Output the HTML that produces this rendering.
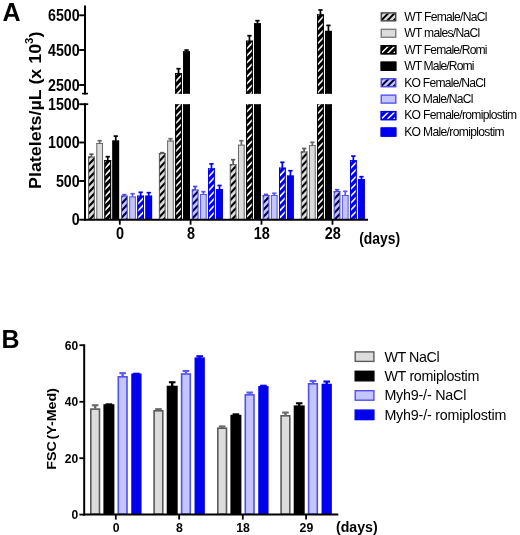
<!DOCTYPE html>
<html><head><meta charset="utf-8"><title>Figure</title>
<style>html,body{margin:0;padding:0;background:#fff;}svg{display:block;filter:blur(0.35px);}</style>
</head><body>
<svg width="520" height="535" viewBox="0 0 520 535">
<rect width="520" height="535" fill="#fff"/>
<rect x="88.10" y="156.60" width="6.7" height="63.10" fill="#dcdcdc"/><clipPath id="c1"><rect x="88.60" y="156.60" width="5.70" height="63.10"/></clipPath><g clip-path="url(#c1)" stroke="#000000" stroke-width="2.1"><line x1="86.60" y1="145.71" x2="96.30" y2="135.49"/><line x1="86.60" y1="152.71" x2="96.30" y2="142.49"/><line x1="86.60" y1="159.71" x2="96.30" y2="149.49"/><line x1="86.60" y1="166.71" x2="96.30" y2="156.49"/><line x1="86.60" y1="173.71" x2="96.30" y2="163.49"/><line x1="86.60" y1="180.71" x2="96.30" y2="170.49"/><line x1="86.60" y1="187.71" x2="96.30" y2="177.49"/><line x1="86.60" y1="194.71" x2="96.30" y2="184.49"/><line x1="86.60" y1="201.71" x2="96.30" y2="191.49"/><line x1="86.60" y1="208.71" x2="96.30" y2="198.49"/><line x1="86.60" y1="215.71" x2="96.30" y2="205.49"/><line x1="86.60" y1="222.71" x2="96.30" y2="212.49"/><line x1="86.60" y1="229.71" x2="96.30" y2="219.49"/><line x1="86.60" y1="236.71" x2="96.30" y2="226.49"/></g><line x1="88.60" y1="156.60" x2="88.60" y2="219.70" stroke="#5a5a5a" stroke-width="1.0"/><line x1="94.30" y1="156.60" x2="94.30" y2="219.70" stroke="#5a5a5a" stroke-width="1.0"/><line x1="88.10" y1="157.10" x2="94.80" y2="157.10" stroke="#5a5a5a" stroke-width="1.0"/>
<line x1="91.45" y1="157.10" x2="91.45" y2="154.20" stroke="#5a5a5a" stroke-width="1.7"/><line x1="89.30" y1="154.20" x2="93.60" y2="154.20" stroke="#5a5a5a" stroke-width="1.7"/>
<rect x="96.30" y="143.00" width="6.7" height="76.70" fill="#dcdcdc"/><line x1="96.80" y1="143.00" x2="96.80" y2="219.70" stroke="#6a6a6a" stroke-width="1.0"/><line x1="102.50" y1="143.00" x2="102.50" y2="219.70" stroke="#6a6a6a" stroke-width="1.0"/><line x1="96.30" y1="143.50" x2="103.00" y2="143.50" stroke="#6a6a6a" stroke-width="1.0"/>
<line x1="99.65" y1="143.50" x2="99.65" y2="140.70" stroke="#6a6a6a" stroke-width="1.7"/><line x1="97.50" y1="140.70" x2="101.80" y2="140.70" stroke="#6a6a6a" stroke-width="1.7"/>
<rect x="104.40" y="160.10" width="6.7" height="59.60" fill="#000000"/><clipPath id="c2"><rect x="104.90" y="160.10" width="5.70" height="59.60"/></clipPath><g clip-path="url(#c2)" stroke="#ffffff" stroke-width="1.6"><line x1="102.90" y1="149.51" x2="112.60" y2="139.29"/><line x1="102.90" y1="156.51" x2="112.60" y2="146.29"/><line x1="102.90" y1="163.51" x2="112.60" y2="153.29"/><line x1="102.90" y1="170.51" x2="112.60" y2="160.29"/><line x1="102.90" y1="177.51" x2="112.60" y2="167.29"/><line x1="102.90" y1="184.51" x2="112.60" y2="174.29"/><line x1="102.90" y1="191.51" x2="112.60" y2="181.29"/><line x1="102.90" y1="198.51" x2="112.60" y2="188.29"/><line x1="102.90" y1="205.51" x2="112.60" y2="195.29"/><line x1="102.90" y1="212.51" x2="112.60" y2="202.29"/><line x1="102.90" y1="219.51" x2="112.60" y2="209.29"/><line x1="102.90" y1="226.51" x2="112.60" y2="216.29"/><line x1="102.90" y1="233.51" x2="112.60" y2="223.29"/><line x1="102.90" y1="240.51" x2="112.60" y2="230.29"/></g><line x1="104.90" y1="160.10" x2="104.90" y2="219.70" stroke="#000000" stroke-width="1.0"/><line x1="110.60" y1="160.10" x2="110.60" y2="219.70" stroke="#000000" stroke-width="1.0"/><line x1="104.40" y1="160.60" x2="111.10" y2="160.60" stroke="#000000" stroke-width="1.0"/>
<line x1="107.75" y1="160.60" x2="107.75" y2="156.70" stroke="#000000" stroke-width="1.7"/><line x1="105.60" y1="156.70" x2="109.90" y2="156.70" stroke="#000000" stroke-width="1.7"/>
<rect x="112.40" y="140.60" width="6.7" height="79.10" fill="#000000"/><line x1="112.90" y1="140.60" x2="112.90" y2="219.70" stroke="#000000" stroke-width="1.0"/><line x1="118.60" y1="140.60" x2="118.60" y2="219.70" stroke="#000000" stroke-width="1.0"/><line x1="112.40" y1="141.10" x2="119.10" y2="141.10" stroke="#000000" stroke-width="1.0"/>
<line x1="115.75" y1="141.10" x2="115.75" y2="136.10" stroke="#000000" stroke-width="1.7"/><line x1="113.60" y1="136.10" x2="117.90" y2="136.10" stroke="#000000" stroke-width="1.7"/>
<rect x="121.00" y="195.70" width="6.7" height="24.00" fill="#c4c4ff"/><clipPath id="c3"><rect x="121.50" y="195.70" width="5.70" height="24.00"/></clipPath><g clip-path="url(#c3)" stroke="#00004a" stroke-width="2.1"><line x1="119.50" y1="184.81" x2="129.20" y2="174.59"/><line x1="119.50" y1="191.81" x2="129.20" y2="181.59"/><line x1="119.50" y1="198.81" x2="129.20" y2="188.59"/><line x1="119.50" y1="205.81" x2="129.20" y2="195.59"/><line x1="119.50" y1="212.81" x2="129.20" y2="202.59"/><line x1="119.50" y1="219.81" x2="129.20" y2="209.59"/><line x1="119.50" y1="226.81" x2="129.20" y2="216.59"/><line x1="119.50" y1="233.81" x2="129.20" y2="223.59"/><line x1="119.50" y1="240.81" x2="129.20" y2="230.59"/></g><line x1="121.50" y1="195.70" x2="121.50" y2="219.70" stroke="#4a4ae0" stroke-width="1.0"/><line x1="127.20" y1="195.70" x2="127.20" y2="219.70" stroke="#4a4ae0" stroke-width="1.0"/><line x1="121.00" y1="196.20" x2="127.70" y2="196.20" stroke="#4a4ae0" stroke-width="1.0"/>
<line x1="124.35" y1="196.20" x2="124.35" y2="194.70" stroke="#4a4ae0" stroke-width="1.7"/><line x1="122.20" y1="194.70" x2="126.50" y2="194.70" stroke="#4a4ae0" stroke-width="1.7"/>
<rect x="129.20" y="196.50" width="6.7" height="23.20" fill="#c4c4ff"/><line x1="129.70" y1="196.50" x2="129.70" y2="219.70" stroke="#5a5af0" stroke-width="1.0"/><line x1="135.40" y1="196.50" x2="135.40" y2="219.70" stroke="#5a5af0" stroke-width="1.0"/><line x1="129.20" y1="197.00" x2="135.90" y2="197.00" stroke="#5a5af0" stroke-width="1.0"/>
<line x1="132.55" y1="197.00" x2="132.55" y2="193.70" stroke="#5a5af0" stroke-width="1.7"/><line x1="130.40" y1="193.70" x2="134.70" y2="193.70" stroke="#5a5af0" stroke-width="1.7"/>
<rect x="137.30" y="195.70" width="6.7" height="24.00" fill="#0000ee"/><clipPath id="c4"><rect x="137.80" y="195.70" width="5.70" height="24.00"/></clipPath><g clip-path="url(#c4)" stroke="#ffffff" stroke-width="1.6"><line x1="135.80" y1="185.11" x2="145.50" y2="174.89"/><line x1="135.80" y1="192.11" x2="145.50" y2="181.89"/><line x1="135.80" y1="199.11" x2="145.50" y2="188.89"/><line x1="135.80" y1="206.11" x2="145.50" y2="195.89"/><line x1="135.80" y1="213.11" x2="145.50" y2="202.89"/><line x1="135.80" y1="220.11" x2="145.50" y2="209.89"/><line x1="135.80" y1="227.11" x2="145.50" y2="216.89"/><line x1="135.80" y1="234.11" x2="145.50" y2="223.89"/><line x1="135.80" y1="241.11" x2="145.50" y2="230.89"/></g><line x1="137.80" y1="195.70" x2="137.80" y2="219.70" stroke="#0000ee" stroke-width="1.0"/><line x1="143.50" y1="195.70" x2="143.50" y2="219.70" stroke="#0000ee" stroke-width="1.0"/><line x1="137.30" y1="196.20" x2="144.00" y2="196.20" stroke="#0000ee" stroke-width="1.0"/>
<line x1="140.65" y1="196.20" x2="140.65" y2="192.30" stroke="#0000ee" stroke-width="1.7"/><line x1="138.50" y1="192.30" x2="142.80" y2="192.30" stroke="#0000ee" stroke-width="1.7"/>
<rect x="145.40" y="195.70" width="6.7" height="24.00" fill="#0000ee"/><line x1="145.90" y1="195.70" x2="145.90" y2="219.70" stroke="#0000ee" stroke-width="1.0"/><line x1="151.60" y1="195.70" x2="151.60" y2="219.70" stroke="#0000ee" stroke-width="1.0"/><line x1="145.40" y1="196.20" x2="152.10" y2="196.20" stroke="#0000ee" stroke-width="1.0"/>
<line x1="148.75" y1="196.20" x2="148.75" y2="192.70" stroke="#0000ee" stroke-width="1.7"/><line x1="146.60" y1="192.70" x2="150.90" y2="192.70" stroke="#0000ee" stroke-width="1.7"/>
<rect x="158.90" y="153.00" width="6.7" height="66.70" fill="#dcdcdc"/><clipPath id="c5"><rect x="159.40" y="153.00" width="5.70" height="66.70"/></clipPath><g clip-path="url(#c5)" stroke="#000000" stroke-width="2.1"><line x1="157.40" y1="142.11" x2="167.10" y2="131.89"/><line x1="157.40" y1="149.11" x2="167.10" y2="138.89"/><line x1="157.40" y1="156.11" x2="167.10" y2="145.89"/><line x1="157.40" y1="163.11" x2="167.10" y2="152.89"/><line x1="157.40" y1="170.11" x2="167.10" y2="159.89"/><line x1="157.40" y1="177.11" x2="167.10" y2="166.89"/><line x1="157.40" y1="184.11" x2="167.10" y2="173.89"/><line x1="157.40" y1="191.11" x2="167.10" y2="180.89"/><line x1="157.40" y1="198.11" x2="167.10" y2="187.89"/><line x1="157.40" y1="205.11" x2="167.10" y2="194.89"/><line x1="157.40" y1="212.11" x2="167.10" y2="201.89"/><line x1="157.40" y1="219.11" x2="167.10" y2="208.89"/><line x1="157.40" y1="226.11" x2="167.10" y2="215.89"/><line x1="157.40" y1="233.11" x2="167.10" y2="222.89"/><line x1="157.40" y1="240.11" x2="167.10" y2="229.89"/></g><line x1="159.40" y1="153.00" x2="159.40" y2="219.70" stroke="#5a5a5a" stroke-width="1.0"/><line x1="165.10" y1="153.00" x2="165.10" y2="219.70" stroke="#5a5a5a" stroke-width="1.0"/><line x1="158.90" y1="153.50" x2="165.60" y2="153.50" stroke="#5a5a5a" stroke-width="1.0"/>
<line x1="162.25" y1="153.50" x2="162.25" y2="152.70" stroke="#5a5a5a" stroke-width="1.7"/><line x1="160.10" y1="152.70" x2="164.40" y2="152.70" stroke="#5a5a5a" stroke-width="1.7"/>
<rect x="167.10" y="140.60" width="6.7" height="79.10" fill="#dcdcdc"/><line x1="167.60" y1="140.60" x2="167.60" y2="219.70" stroke="#6a6a6a" stroke-width="1.0"/><line x1="173.30" y1="140.60" x2="173.30" y2="219.70" stroke="#6a6a6a" stroke-width="1.0"/><line x1="167.10" y1="141.10" x2="173.80" y2="141.10" stroke="#6a6a6a" stroke-width="1.0"/>
<line x1="170.45" y1="141.10" x2="170.45" y2="138.70" stroke="#6a6a6a" stroke-width="1.7"/><line x1="168.30" y1="138.70" x2="172.60" y2="138.70" stroke="#6a6a6a" stroke-width="1.7"/>
<rect x="175.20" y="104.20" width="6.7" height="115.50" fill="#000000"/><clipPath id="c6"><rect x="175.70" y="104.20" width="5.70" height="115.50"/></clipPath><g clip-path="url(#c6)" stroke="#ffffff" stroke-width="1.6"><line x1="173.70" y1="97.41" x2="183.40" y2="87.19"/><line x1="173.70" y1="104.41" x2="183.40" y2="94.19"/><line x1="173.70" y1="111.41" x2="183.40" y2="101.19"/><line x1="173.70" y1="118.41" x2="183.40" y2="108.19"/><line x1="173.70" y1="125.41" x2="183.40" y2="115.19"/><line x1="173.70" y1="132.41" x2="183.40" y2="122.19"/><line x1="173.70" y1="139.41" x2="183.40" y2="129.19"/><line x1="173.70" y1="146.41" x2="183.40" y2="136.19"/><line x1="173.70" y1="153.41" x2="183.40" y2="143.19"/><line x1="173.70" y1="160.41" x2="183.40" y2="150.19"/><line x1="173.70" y1="167.41" x2="183.40" y2="157.19"/><line x1="173.70" y1="174.41" x2="183.40" y2="164.19"/><line x1="173.70" y1="181.41" x2="183.40" y2="171.19"/><line x1="173.70" y1="188.41" x2="183.40" y2="178.19"/><line x1="173.70" y1="195.41" x2="183.40" y2="185.19"/><line x1="173.70" y1="202.41" x2="183.40" y2="192.19"/><line x1="173.70" y1="209.41" x2="183.40" y2="199.19"/><line x1="173.70" y1="216.41" x2="183.40" y2="206.19"/><line x1="173.70" y1="223.41" x2="183.40" y2="213.19"/><line x1="173.70" y1="230.41" x2="183.40" y2="220.19"/><line x1="173.70" y1="237.41" x2="183.40" y2="227.19"/></g><line x1="175.70" y1="104.20" x2="175.70" y2="219.70" stroke="#000000" stroke-width="1.0"/><line x1="181.40" y1="104.20" x2="181.40" y2="219.70" stroke="#000000" stroke-width="1.0"/>
<rect x="175.20" y="73.00" width="6.7" height="20.80" fill="#000000"/><clipPath id="c7"><rect x="175.70" y="73.00" width="5.70" height="20.80"/></clipPath><g clip-path="url(#c7)" stroke="#ffffff" stroke-width="1.6"><line x1="173.70" y1="62.41" x2="183.40" y2="52.19"/><line x1="173.70" y1="69.41" x2="183.40" y2="59.19"/><line x1="173.70" y1="76.41" x2="183.40" y2="66.19"/><line x1="173.70" y1="83.41" x2="183.40" y2="73.19"/><line x1="173.70" y1="90.41" x2="183.40" y2="80.19"/><line x1="173.70" y1="97.41" x2="183.40" y2="87.19"/><line x1="173.70" y1="104.41" x2="183.40" y2="94.19"/><line x1="173.70" y1="111.41" x2="183.40" y2="101.19"/></g><line x1="175.70" y1="73.00" x2="175.70" y2="93.80" stroke="#000000" stroke-width="1.0"/><line x1="181.40" y1="73.00" x2="181.40" y2="93.80" stroke="#000000" stroke-width="1.0"/><line x1="175.20" y1="73.50" x2="181.90" y2="73.50" stroke="#000000" stroke-width="1.0"/>
<line x1="178.55" y1="73.50" x2="178.55" y2="68.70" stroke="#000000" stroke-width="1.7"/><line x1="176.40" y1="68.70" x2="180.70" y2="68.70" stroke="#000000" stroke-width="1.7"/>
<rect x="183.20" y="104.20" width="6.7" height="115.50" fill="#000000"/><line x1="183.70" y1="104.20" x2="183.70" y2="219.70" stroke="#000000" stroke-width="1.0"/><line x1="189.40" y1="104.20" x2="189.40" y2="219.70" stroke="#000000" stroke-width="1.0"/>
<rect x="183.20" y="51.40" width="6.7" height="42.40" fill="#000000"/><line x1="183.70" y1="51.40" x2="183.70" y2="93.80" stroke="#000000" stroke-width="1.0"/><line x1="189.40" y1="51.40" x2="189.40" y2="93.80" stroke="#000000" stroke-width="1.0"/><line x1="183.20" y1="51.90" x2="189.90" y2="51.90" stroke="#000000" stroke-width="1.0"/>
<line x1="186.55" y1="51.90" x2="186.55" y2="50.10" stroke="#000000" stroke-width="1.7"/><line x1="184.40" y1="50.10" x2="188.70" y2="50.10" stroke="#000000" stroke-width="1.7"/>
<rect x="191.80" y="189.50" width="6.7" height="30.20" fill="#c4c4ff"/><clipPath id="c8"><rect x="192.30" y="189.50" width="5.70" height="30.20"/></clipPath><g clip-path="url(#c8)" stroke="#00004a" stroke-width="2.1"><line x1="190.30" y1="178.61" x2="200.00" y2="168.39"/><line x1="190.30" y1="185.61" x2="200.00" y2="175.39"/><line x1="190.30" y1="192.61" x2="200.00" y2="182.39"/><line x1="190.30" y1="199.61" x2="200.00" y2="189.39"/><line x1="190.30" y1="206.61" x2="200.00" y2="196.39"/><line x1="190.30" y1="213.61" x2="200.00" y2="203.39"/><line x1="190.30" y1="220.61" x2="200.00" y2="210.39"/><line x1="190.30" y1="227.61" x2="200.00" y2="217.39"/><line x1="190.30" y1="234.61" x2="200.00" y2="224.39"/><line x1="190.30" y1="241.61" x2="200.00" y2="231.39"/></g><line x1="192.30" y1="189.50" x2="192.30" y2="219.70" stroke="#4a4ae0" stroke-width="1.0"/><line x1="198.00" y1="189.50" x2="198.00" y2="219.70" stroke="#4a4ae0" stroke-width="1.0"/><line x1="191.80" y1="190.00" x2="198.50" y2="190.00" stroke="#4a4ae0" stroke-width="1.0"/>
<line x1="195.15" y1="190.00" x2="195.15" y2="186.50" stroke="#4a4ae0" stroke-width="1.7"/><line x1="193.00" y1="186.50" x2="197.30" y2="186.50" stroke="#4a4ae0" stroke-width="1.7"/>
<rect x="200.00" y="194.00" width="6.7" height="25.70" fill="#c4c4ff"/><line x1="200.50" y1="194.00" x2="200.50" y2="219.70" stroke="#5a5af0" stroke-width="1.0"/><line x1="206.20" y1="194.00" x2="206.20" y2="219.70" stroke="#5a5af0" stroke-width="1.0"/><line x1="200.00" y1="194.50" x2="206.70" y2="194.50" stroke="#5a5af0" stroke-width="1.0"/>
<line x1="203.35" y1="194.50" x2="203.35" y2="191.70" stroke="#5a5af0" stroke-width="1.7"/><line x1="201.20" y1="191.70" x2="205.50" y2="191.70" stroke="#5a5af0" stroke-width="1.7"/>
<rect x="208.10" y="168.40" width="6.7" height="51.30" fill="#0000ee"/><clipPath id="c9"><rect x="208.60" y="168.40" width="5.70" height="51.30"/></clipPath><g clip-path="url(#c9)" stroke="#ffffff" stroke-width="1.6"><line x1="206.60" y1="157.81" x2="216.30" y2="147.59"/><line x1="206.60" y1="164.81" x2="216.30" y2="154.59"/><line x1="206.60" y1="171.81" x2="216.30" y2="161.59"/><line x1="206.60" y1="178.81" x2="216.30" y2="168.59"/><line x1="206.60" y1="185.81" x2="216.30" y2="175.59"/><line x1="206.60" y1="192.81" x2="216.30" y2="182.59"/><line x1="206.60" y1="199.81" x2="216.30" y2="189.59"/><line x1="206.60" y1="206.81" x2="216.30" y2="196.59"/><line x1="206.60" y1="213.81" x2="216.30" y2="203.59"/><line x1="206.60" y1="220.81" x2="216.30" y2="210.59"/><line x1="206.60" y1="227.81" x2="216.30" y2="217.59"/><line x1="206.60" y1="234.81" x2="216.30" y2="224.59"/></g><line x1="208.60" y1="168.40" x2="208.60" y2="219.70" stroke="#0000ee" stroke-width="1.0"/><line x1="214.30" y1="168.40" x2="214.30" y2="219.70" stroke="#0000ee" stroke-width="1.0"/><line x1="208.10" y1="168.90" x2="214.80" y2="168.90" stroke="#0000ee" stroke-width="1.0"/>
<line x1="211.45" y1="168.90" x2="211.45" y2="163.90" stroke="#0000ee" stroke-width="1.7"/><line x1="209.30" y1="163.90" x2="213.60" y2="163.90" stroke="#0000ee" stroke-width="1.7"/>
<rect x="216.20" y="189.00" width="6.7" height="30.70" fill="#0000ee"/><line x1="216.70" y1="189.00" x2="216.70" y2="219.70" stroke="#0000ee" stroke-width="1.0"/><line x1="222.40" y1="189.00" x2="222.40" y2="219.70" stroke="#0000ee" stroke-width="1.0"/><line x1="216.20" y1="189.50" x2="222.90" y2="189.50" stroke="#0000ee" stroke-width="1.0"/>
<line x1="219.55" y1="189.50" x2="219.55" y2="185.50" stroke="#0000ee" stroke-width="1.7"/><line x1="217.40" y1="185.50" x2="221.70" y2="185.50" stroke="#0000ee" stroke-width="1.7"/>
<rect x="229.80" y="164.20" width="6.7" height="55.50" fill="#dcdcdc"/><clipPath id="c10"><rect x="230.30" y="164.20" width="5.70" height="55.50"/></clipPath><g clip-path="url(#c10)" stroke="#000000" stroke-width="2.1"><line x1="228.30" y1="153.31" x2="238.00" y2="143.09"/><line x1="228.30" y1="160.31" x2="238.00" y2="150.09"/><line x1="228.30" y1="167.31" x2="238.00" y2="157.09"/><line x1="228.30" y1="174.31" x2="238.00" y2="164.09"/><line x1="228.30" y1="181.31" x2="238.00" y2="171.09"/><line x1="228.30" y1="188.31" x2="238.00" y2="178.09"/><line x1="228.30" y1="195.31" x2="238.00" y2="185.09"/><line x1="228.30" y1="202.31" x2="238.00" y2="192.09"/><line x1="228.30" y1="209.31" x2="238.00" y2="199.09"/><line x1="228.30" y1="216.31" x2="238.00" y2="206.09"/><line x1="228.30" y1="223.31" x2="238.00" y2="213.09"/><line x1="228.30" y1="230.31" x2="238.00" y2="220.09"/><line x1="228.30" y1="237.31" x2="238.00" y2="227.09"/></g><line x1="230.30" y1="164.20" x2="230.30" y2="219.70" stroke="#5a5a5a" stroke-width="1.0"/><line x1="236.00" y1="164.20" x2="236.00" y2="219.70" stroke="#5a5a5a" stroke-width="1.0"/><line x1="229.80" y1="164.70" x2="236.50" y2="164.70" stroke="#5a5a5a" stroke-width="1.0"/>
<line x1="233.15" y1="164.70" x2="233.15" y2="159.70" stroke="#5a5a5a" stroke-width="1.7"/><line x1="231.00" y1="159.70" x2="235.30" y2="159.70" stroke="#5a5a5a" stroke-width="1.7"/>
<rect x="238.00" y="144.70" width="6.7" height="75.00" fill="#dcdcdc"/><line x1="238.50" y1="144.70" x2="238.50" y2="219.70" stroke="#6a6a6a" stroke-width="1.0"/><line x1="244.20" y1="144.70" x2="244.20" y2="219.70" stroke="#6a6a6a" stroke-width="1.0"/><line x1="238.00" y1="145.20" x2="244.70" y2="145.20" stroke="#6a6a6a" stroke-width="1.0"/>
<line x1="241.35" y1="145.20" x2="241.35" y2="140.70" stroke="#6a6a6a" stroke-width="1.7"/><line x1="239.20" y1="140.70" x2="243.50" y2="140.70" stroke="#6a6a6a" stroke-width="1.7"/>
<rect x="246.10" y="104.20" width="6.7" height="115.50" fill="#000000"/><clipPath id="c11"><rect x="246.60" y="104.20" width="5.70" height="115.50"/></clipPath><g clip-path="url(#c11)" stroke="#ffffff" stroke-width="1.6"><line x1="244.60" y1="93.11" x2="254.30" y2="82.89"/><line x1="244.60" y1="100.11" x2="254.30" y2="89.89"/><line x1="244.60" y1="107.11" x2="254.30" y2="96.89"/><line x1="244.60" y1="114.11" x2="254.30" y2="103.89"/><line x1="244.60" y1="121.11" x2="254.30" y2="110.89"/><line x1="244.60" y1="128.11" x2="254.30" y2="117.89"/><line x1="244.60" y1="135.11" x2="254.30" y2="124.89"/><line x1="244.60" y1="142.11" x2="254.30" y2="131.89"/><line x1="244.60" y1="149.11" x2="254.30" y2="138.89"/><line x1="244.60" y1="156.11" x2="254.30" y2="145.89"/><line x1="244.60" y1="163.11" x2="254.30" y2="152.89"/><line x1="244.60" y1="170.11" x2="254.30" y2="159.89"/><line x1="244.60" y1="177.11" x2="254.30" y2="166.89"/><line x1="244.60" y1="184.11" x2="254.30" y2="173.89"/><line x1="244.60" y1="191.11" x2="254.30" y2="180.89"/><line x1="244.60" y1="198.11" x2="254.30" y2="187.89"/><line x1="244.60" y1="205.11" x2="254.30" y2="194.89"/><line x1="244.60" y1="212.11" x2="254.30" y2="201.89"/><line x1="244.60" y1="219.11" x2="254.30" y2="208.89"/><line x1="244.60" y1="226.11" x2="254.30" y2="215.89"/><line x1="244.60" y1="233.11" x2="254.30" y2="222.89"/><line x1="244.60" y1="240.11" x2="254.30" y2="229.89"/></g><line x1="246.60" y1="104.20" x2="246.60" y2="219.70" stroke="#000000" stroke-width="1.0"/><line x1="252.30" y1="104.20" x2="252.30" y2="219.70" stroke="#000000" stroke-width="1.0"/>
<rect x="246.10" y="40.70" width="6.7" height="53.10" fill="#000000"/><clipPath id="c12"><rect x="246.60" y="40.70" width="5.70" height="53.10"/></clipPath><g clip-path="url(#c12)" stroke="#ffffff" stroke-width="1.6"><line x1="244.60" y1="30.11" x2="254.30" y2="19.89"/><line x1="244.60" y1="37.11" x2="254.30" y2="26.89"/><line x1="244.60" y1="44.11" x2="254.30" y2="33.89"/><line x1="244.60" y1="51.11" x2="254.30" y2="40.89"/><line x1="244.60" y1="58.11" x2="254.30" y2="47.89"/><line x1="244.60" y1="65.11" x2="254.30" y2="54.89"/><line x1="244.60" y1="72.11" x2="254.30" y2="61.89"/><line x1="244.60" y1="79.11" x2="254.30" y2="68.89"/><line x1="244.60" y1="86.11" x2="254.30" y2="75.89"/><line x1="244.60" y1="93.11" x2="254.30" y2="82.89"/><line x1="244.60" y1="100.11" x2="254.30" y2="89.89"/><line x1="244.60" y1="107.11" x2="254.30" y2="96.89"/><line x1="244.60" y1="114.11" x2="254.30" y2="103.89"/></g><line x1="246.60" y1="40.70" x2="246.60" y2="93.80" stroke="#000000" stroke-width="1.0"/><line x1="252.30" y1="40.70" x2="252.30" y2="93.80" stroke="#000000" stroke-width="1.0"/><line x1="246.10" y1="41.20" x2="252.80" y2="41.20" stroke="#000000" stroke-width="1.0"/>
<line x1="249.45" y1="41.20" x2="249.45" y2="35.70" stroke="#000000" stroke-width="1.7"/><line x1="247.30" y1="35.70" x2="251.60" y2="35.70" stroke="#000000" stroke-width="1.7"/>
<rect x="254.10" y="104.20" width="6.7" height="115.50" fill="#000000"/><line x1="254.60" y1="104.20" x2="254.60" y2="219.70" stroke="#000000" stroke-width="1.0"/><line x1="260.30" y1="104.20" x2="260.30" y2="219.70" stroke="#000000" stroke-width="1.0"/>
<rect x="254.10" y="23.30" width="6.7" height="70.50" fill="#000000"/><line x1="254.60" y1="23.30" x2="254.60" y2="93.80" stroke="#000000" stroke-width="1.0"/><line x1="260.30" y1="23.30" x2="260.30" y2="93.80" stroke="#000000" stroke-width="1.0"/><line x1="254.10" y1="23.80" x2="260.80" y2="23.80" stroke="#000000" stroke-width="1.0"/>
<line x1="257.45" y1="23.80" x2="257.45" y2="20.70" stroke="#000000" stroke-width="1.7"/><line x1="255.30" y1="20.70" x2="259.60" y2="20.70" stroke="#000000" stroke-width="1.7"/>
<rect x="262.70" y="195.00" width="6.7" height="24.70" fill="#c4c4ff"/><clipPath id="c13"><rect x="263.20" y="195.00" width="5.70" height="24.70"/></clipPath><g clip-path="url(#c13)" stroke="#00004a" stroke-width="2.1"><line x1="261.20" y1="184.11" x2="270.90" y2="173.89"/><line x1="261.20" y1="191.11" x2="270.90" y2="180.89"/><line x1="261.20" y1="198.11" x2="270.90" y2="187.89"/><line x1="261.20" y1="205.11" x2="270.90" y2="194.89"/><line x1="261.20" y1="212.11" x2="270.90" y2="201.89"/><line x1="261.20" y1="219.11" x2="270.90" y2="208.89"/><line x1="261.20" y1="226.11" x2="270.90" y2="215.89"/><line x1="261.20" y1="233.11" x2="270.90" y2="222.89"/><line x1="261.20" y1="240.11" x2="270.90" y2="229.89"/></g><line x1="263.20" y1="195.00" x2="263.20" y2="219.70" stroke="#4a4ae0" stroke-width="1.0"/><line x1="268.90" y1="195.00" x2="268.90" y2="219.70" stroke="#4a4ae0" stroke-width="1.0"/><line x1="262.70" y1="195.50" x2="269.40" y2="195.50" stroke="#4a4ae0" stroke-width="1.0"/>
<line x1="266.05" y1="195.50" x2="266.05" y2="194.40" stroke="#4a4ae0" stroke-width="1.7"/><line x1="263.90" y1="194.40" x2="268.20" y2="194.40" stroke="#4a4ae0" stroke-width="1.7"/>
<rect x="270.90" y="195.00" width="6.7" height="24.70" fill="#c4c4ff"/><line x1="271.40" y1="195.00" x2="271.40" y2="219.70" stroke="#5a5af0" stroke-width="1.0"/><line x1="277.10" y1="195.00" x2="277.10" y2="219.70" stroke="#5a5af0" stroke-width="1.0"/><line x1="270.90" y1="195.50" x2="277.60" y2="195.50" stroke="#5a5af0" stroke-width="1.0"/>
<line x1="274.25" y1="195.50" x2="274.25" y2="193.30" stroke="#5a5af0" stroke-width="1.7"/><line x1="272.10" y1="193.30" x2="276.40" y2="193.30" stroke="#5a5af0" stroke-width="1.7"/>
<rect x="279.00" y="167.70" width="6.7" height="52.00" fill="#0000ee"/><clipPath id="c14"><rect x="279.50" y="167.70" width="5.70" height="52.00"/></clipPath><g clip-path="url(#c14)" stroke="#ffffff" stroke-width="1.6"><line x1="277.50" y1="157.11" x2="287.20" y2="146.89"/><line x1="277.50" y1="164.11" x2="287.20" y2="153.89"/><line x1="277.50" y1="171.11" x2="287.20" y2="160.89"/><line x1="277.50" y1="178.11" x2="287.20" y2="167.89"/><line x1="277.50" y1="185.11" x2="287.20" y2="174.89"/><line x1="277.50" y1="192.11" x2="287.20" y2="181.89"/><line x1="277.50" y1="199.11" x2="287.20" y2="188.89"/><line x1="277.50" y1="206.11" x2="287.20" y2="195.89"/><line x1="277.50" y1="213.11" x2="287.20" y2="202.89"/><line x1="277.50" y1="220.11" x2="287.20" y2="209.89"/><line x1="277.50" y1="227.11" x2="287.20" y2="216.89"/><line x1="277.50" y1="234.11" x2="287.20" y2="223.89"/><line x1="277.50" y1="241.11" x2="287.20" y2="230.89"/></g><line x1="279.50" y1="167.70" x2="279.50" y2="219.70" stroke="#0000ee" stroke-width="1.0"/><line x1="285.20" y1="167.70" x2="285.20" y2="219.70" stroke="#0000ee" stroke-width="1.0"/><line x1="279.00" y1="168.20" x2="285.70" y2="168.20" stroke="#0000ee" stroke-width="1.0"/>
<line x1="282.35" y1="168.20" x2="282.35" y2="162.30" stroke="#0000ee" stroke-width="1.7"/><line x1="280.20" y1="162.30" x2="284.50" y2="162.30" stroke="#0000ee" stroke-width="1.7"/>
<rect x="287.10" y="175.60" width="6.7" height="44.10" fill="#0000ee"/><line x1="287.60" y1="175.60" x2="287.60" y2="219.70" stroke="#0000ee" stroke-width="1.0"/><line x1="293.30" y1="175.60" x2="293.30" y2="219.70" stroke="#0000ee" stroke-width="1.0"/><line x1="287.10" y1="176.10" x2="293.80" y2="176.10" stroke="#0000ee" stroke-width="1.0"/>
<line x1="290.45" y1="176.10" x2="290.45" y2="170.70" stroke="#0000ee" stroke-width="1.7"/><line x1="288.30" y1="170.70" x2="292.60" y2="170.70" stroke="#0000ee" stroke-width="1.7"/>
<rect x="300.80" y="151.50" width="6.7" height="68.20" fill="#dcdcdc"/><clipPath id="c15"><rect x="301.30" y="151.50" width="5.70" height="68.20"/></clipPath><g clip-path="url(#c15)" stroke="#000000" stroke-width="2.1"><line x1="299.30" y1="140.61" x2="309.00" y2="130.39"/><line x1="299.30" y1="147.61" x2="309.00" y2="137.39"/><line x1="299.30" y1="154.61" x2="309.00" y2="144.39"/><line x1="299.30" y1="161.61" x2="309.00" y2="151.39"/><line x1="299.30" y1="168.61" x2="309.00" y2="158.39"/><line x1="299.30" y1="175.61" x2="309.00" y2="165.39"/><line x1="299.30" y1="182.61" x2="309.00" y2="172.39"/><line x1="299.30" y1="189.61" x2="309.00" y2="179.39"/><line x1="299.30" y1="196.61" x2="309.00" y2="186.39"/><line x1="299.30" y1="203.61" x2="309.00" y2="193.39"/><line x1="299.30" y1="210.61" x2="309.00" y2="200.39"/><line x1="299.30" y1="217.61" x2="309.00" y2="207.39"/><line x1="299.30" y1="224.61" x2="309.00" y2="214.39"/><line x1="299.30" y1="231.61" x2="309.00" y2="221.39"/><line x1="299.30" y1="238.61" x2="309.00" y2="228.39"/></g><line x1="301.30" y1="151.50" x2="301.30" y2="219.70" stroke="#5a5a5a" stroke-width="1.0"/><line x1="307.00" y1="151.50" x2="307.00" y2="219.70" stroke="#5a5a5a" stroke-width="1.0"/><line x1="300.80" y1="152.00" x2="307.50" y2="152.00" stroke="#5a5a5a" stroke-width="1.0"/>
<line x1="304.15" y1="152.00" x2="304.15" y2="148.50" stroke="#5a5a5a" stroke-width="1.7"/><line x1="302.00" y1="148.50" x2="306.30" y2="148.50" stroke="#5a5a5a" stroke-width="1.7"/>
<rect x="309.00" y="145.10" width="6.7" height="74.60" fill="#dcdcdc"/><line x1="309.50" y1="145.10" x2="309.50" y2="219.70" stroke="#6a6a6a" stroke-width="1.0"/><line x1="315.20" y1="145.10" x2="315.20" y2="219.70" stroke="#6a6a6a" stroke-width="1.0"/><line x1="309.00" y1="145.60" x2="315.70" y2="145.60" stroke="#6a6a6a" stroke-width="1.0"/>
<line x1="312.35" y1="145.60" x2="312.35" y2="142.30" stroke="#6a6a6a" stroke-width="1.7"/><line x1="310.20" y1="142.30" x2="314.50" y2="142.30" stroke="#6a6a6a" stroke-width="1.7"/>
<rect x="317.10" y="104.20" width="6.7" height="115.50" fill="#000000"/><clipPath id="c16"><rect x="317.60" y="104.20" width="5.70" height="115.50"/></clipPath><g clip-path="url(#c16)" stroke="#ffffff" stroke-width="1.6"><line x1="315.60" y1="94.81" x2="325.30" y2="84.59"/><line x1="315.60" y1="101.81" x2="325.30" y2="91.59"/><line x1="315.60" y1="108.81" x2="325.30" y2="98.59"/><line x1="315.60" y1="115.81" x2="325.30" y2="105.59"/><line x1="315.60" y1="122.81" x2="325.30" y2="112.59"/><line x1="315.60" y1="129.81" x2="325.30" y2="119.59"/><line x1="315.60" y1="136.81" x2="325.30" y2="126.59"/><line x1="315.60" y1="143.81" x2="325.30" y2="133.59"/><line x1="315.60" y1="150.81" x2="325.30" y2="140.59"/><line x1="315.60" y1="157.81" x2="325.30" y2="147.59"/><line x1="315.60" y1="164.81" x2="325.30" y2="154.59"/><line x1="315.60" y1="171.81" x2="325.30" y2="161.59"/><line x1="315.60" y1="178.81" x2="325.30" y2="168.59"/><line x1="315.60" y1="185.81" x2="325.30" y2="175.59"/><line x1="315.60" y1="192.81" x2="325.30" y2="182.59"/><line x1="315.60" y1="199.81" x2="325.30" y2="189.59"/><line x1="315.60" y1="206.81" x2="325.30" y2="196.59"/><line x1="315.60" y1="213.81" x2="325.30" y2="203.59"/><line x1="315.60" y1="220.81" x2="325.30" y2="210.59"/><line x1="315.60" y1="227.81" x2="325.30" y2="217.59"/><line x1="315.60" y1="234.81" x2="325.30" y2="224.59"/></g><line x1="317.60" y1="104.20" x2="317.60" y2="219.70" stroke="#000000" stroke-width="1.0"/><line x1="323.30" y1="104.20" x2="323.30" y2="219.70" stroke="#000000" stroke-width="1.0"/>
<rect x="317.10" y="14.40" width="6.7" height="79.40" fill="#000000"/><clipPath id="c17"><rect x="317.60" y="14.40" width="5.70" height="79.40"/></clipPath><g clip-path="url(#c17)" stroke="#ffffff" stroke-width="1.6"><line x1="315.60" y1="3.81" x2="325.30" y2="-6.41"/><line x1="315.60" y1="10.81" x2="325.30" y2="0.59"/><line x1="315.60" y1="17.81" x2="325.30" y2="7.59"/><line x1="315.60" y1="24.81" x2="325.30" y2="14.59"/><line x1="315.60" y1="31.81" x2="325.30" y2="21.59"/><line x1="315.60" y1="38.81" x2="325.30" y2="28.59"/><line x1="315.60" y1="45.81" x2="325.30" y2="35.59"/><line x1="315.60" y1="52.81" x2="325.30" y2="42.59"/><line x1="315.60" y1="59.81" x2="325.30" y2="49.59"/><line x1="315.60" y1="66.81" x2="325.30" y2="56.59"/><line x1="315.60" y1="73.81" x2="325.30" y2="63.59"/><line x1="315.60" y1="80.81" x2="325.30" y2="70.59"/><line x1="315.60" y1="87.81" x2="325.30" y2="77.59"/><line x1="315.60" y1="94.81" x2="325.30" y2="84.59"/><line x1="315.60" y1="101.81" x2="325.30" y2="91.59"/><line x1="315.60" y1="108.81" x2="325.30" y2="98.59"/><line x1="315.60" y1="115.81" x2="325.30" y2="105.59"/></g><line x1="317.60" y1="14.40" x2="317.60" y2="93.80" stroke="#000000" stroke-width="1.0"/><line x1="323.30" y1="14.40" x2="323.30" y2="93.80" stroke="#000000" stroke-width="1.0"/><line x1="317.10" y1="14.90" x2="323.80" y2="14.90" stroke="#000000" stroke-width="1.0"/>
<line x1="320.45" y1="14.90" x2="320.45" y2="10.00" stroke="#000000" stroke-width="1.7"/><line x1="318.30" y1="10.00" x2="322.60" y2="10.00" stroke="#000000" stroke-width="1.7"/>
<rect x="325.10" y="104.20" width="6.7" height="115.50" fill="#000000"/><line x1="325.60" y1="104.20" x2="325.60" y2="219.70" stroke="#000000" stroke-width="1.0"/><line x1="331.30" y1="104.20" x2="331.30" y2="219.70" stroke="#000000" stroke-width="1.0"/>
<rect x="325.10" y="30.90" width="6.7" height="62.90" fill="#000000"/><line x1="325.60" y1="30.90" x2="325.60" y2="93.80" stroke="#000000" stroke-width="1.0"/><line x1="331.30" y1="30.90" x2="331.30" y2="93.80" stroke="#000000" stroke-width="1.0"/><line x1="325.10" y1="31.40" x2="331.80" y2="31.40" stroke="#000000" stroke-width="1.0"/>
<line x1="328.45" y1="31.40" x2="328.45" y2="25.40" stroke="#000000" stroke-width="1.7"/><line x1="326.30" y1="25.40" x2="330.60" y2="25.40" stroke="#000000" stroke-width="1.7"/>
<rect x="333.70" y="191.00" width="6.7" height="28.70" fill="#c4c4ff"/><clipPath id="c18"><rect x="334.20" y="191.00" width="5.70" height="28.70"/></clipPath><g clip-path="url(#c18)" stroke="#00004a" stroke-width="2.1"><line x1="332.20" y1="180.11" x2="341.90" y2="169.89"/><line x1="332.20" y1="187.11" x2="341.90" y2="176.89"/><line x1="332.20" y1="194.11" x2="341.90" y2="183.89"/><line x1="332.20" y1="201.11" x2="341.90" y2="190.89"/><line x1="332.20" y1="208.11" x2="341.90" y2="197.89"/><line x1="332.20" y1="215.11" x2="341.90" y2="204.89"/><line x1="332.20" y1="222.11" x2="341.90" y2="211.89"/><line x1="332.20" y1="229.11" x2="341.90" y2="218.89"/><line x1="332.20" y1="236.11" x2="341.90" y2="225.89"/></g><line x1="334.20" y1="191.00" x2="334.20" y2="219.70" stroke="#4a4ae0" stroke-width="1.0"/><line x1="339.90" y1="191.00" x2="339.90" y2="219.70" stroke="#4a4ae0" stroke-width="1.0"/><line x1="333.70" y1="191.50" x2="340.40" y2="191.50" stroke="#4a4ae0" stroke-width="1.0"/>
<line x1="337.05" y1="191.50" x2="337.05" y2="189.70" stroke="#4a4ae0" stroke-width="1.7"/><line x1="334.90" y1="189.70" x2="339.20" y2="189.70" stroke="#4a4ae0" stroke-width="1.7"/>
<rect x="341.90" y="195.00" width="6.7" height="24.70" fill="#c4c4ff"/><line x1="342.40" y1="195.00" x2="342.40" y2="219.70" stroke="#5a5af0" stroke-width="1.0"/><line x1="348.10" y1="195.00" x2="348.10" y2="219.70" stroke="#5a5af0" stroke-width="1.0"/><line x1="341.90" y1="195.50" x2="348.60" y2="195.50" stroke="#5a5af0" stroke-width="1.0"/>
<line x1="345.25" y1="195.50" x2="345.25" y2="191.30" stroke="#5a5af0" stroke-width="1.7"/><line x1="343.10" y1="191.30" x2="347.40" y2="191.30" stroke="#5a5af0" stroke-width="1.7"/>
<rect x="350.00" y="160.10" width="6.7" height="59.60" fill="#0000ee"/><clipPath id="c19"><rect x="350.50" y="160.10" width="5.70" height="59.60"/></clipPath><g clip-path="url(#c19)" stroke="#ffffff" stroke-width="1.6"><line x1="348.50" y1="149.51" x2="358.20" y2="139.29"/><line x1="348.50" y1="156.51" x2="358.20" y2="146.29"/><line x1="348.50" y1="163.51" x2="358.20" y2="153.29"/><line x1="348.50" y1="170.51" x2="358.20" y2="160.29"/><line x1="348.50" y1="177.51" x2="358.20" y2="167.29"/><line x1="348.50" y1="184.51" x2="358.20" y2="174.29"/><line x1="348.50" y1="191.51" x2="358.20" y2="181.29"/><line x1="348.50" y1="198.51" x2="358.20" y2="188.29"/><line x1="348.50" y1="205.51" x2="358.20" y2="195.29"/><line x1="348.50" y1="212.51" x2="358.20" y2="202.29"/><line x1="348.50" y1="219.51" x2="358.20" y2="209.29"/><line x1="348.50" y1="226.51" x2="358.20" y2="216.29"/><line x1="348.50" y1="233.51" x2="358.20" y2="223.29"/><line x1="348.50" y1="240.51" x2="358.20" y2="230.29"/></g><line x1="350.50" y1="160.10" x2="350.50" y2="219.70" stroke="#0000ee" stroke-width="1.0"/><line x1="356.20" y1="160.10" x2="356.20" y2="219.70" stroke="#0000ee" stroke-width="1.0"/><line x1="350.00" y1="160.60" x2="356.70" y2="160.60" stroke="#0000ee" stroke-width="1.0"/>
<line x1="353.35" y1="160.60" x2="353.35" y2="156.10" stroke="#0000ee" stroke-width="1.7"/><line x1="351.20" y1="156.10" x2="355.50" y2="156.10" stroke="#0000ee" stroke-width="1.7"/>
<rect x="358.10" y="179.00" width="6.7" height="40.70" fill="#0000ee"/><line x1="358.60" y1="179.00" x2="358.60" y2="219.70" stroke="#0000ee" stroke-width="1.0"/><line x1="364.30" y1="179.00" x2="364.30" y2="219.70" stroke="#0000ee" stroke-width="1.0"/><line x1="358.10" y1="179.50" x2="364.80" y2="179.50" stroke="#0000ee" stroke-width="1.0"/>
<line x1="361.45" y1="179.50" x2="361.45" y2="176.70" stroke="#0000ee" stroke-width="1.7"/><line x1="359.30" y1="176.70" x2="363.60" y2="176.70" stroke="#0000ee" stroke-width="1.7"/>
<line x1="85.0" y1="5.6" x2="85.0" y2="94.39999999999999" stroke="#000" stroke-width="2"/>
<line x1="82.0" y1="93.6" x2="88.0" y2="93.6" stroke="#000" stroke-width="1.6"/>
<line x1="85.0" y1="103.3" x2="85.0" y2="220.7" stroke="#000" stroke-width="2"/>
<line x1="85.0" y1="104.2" x2="88.2" y2="104.2" stroke="#000" stroke-width="1.8"/>
<line x1="84.0" y1="219.7" x2="368" y2="219.7" stroke="#000" stroke-width="2"/>
<line x1="79.2" y1="15.3" x2="85.0" y2="15.3" stroke="#000" stroke-width="1.9"/>
<text transform="translate(79.60,20.90) scale(0.9,1)" text-anchor="end" font-family="Liberation Sans, Arial, Helvetica, sans-serif" font-weight="bold" font-size="15.8">6500</text>
<line x1="79.2" y1="50" x2="85.0" y2="50" stroke="#000" stroke-width="1.9"/>
<text transform="translate(79.60,55.60) scale(0.9,1)" text-anchor="end" font-family="Liberation Sans, Arial, Helvetica, sans-serif" font-weight="bold" font-size="15.8">4500</text>
<line x1="79.2" y1="85" x2="85.0" y2="85" stroke="#000" stroke-width="1.9"/>
<text transform="translate(79.60,90.60) scale(0.9,1)" text-anchor="end" font-family="Liberation Sans, Arial, Helvetica, sans-serif" font-weight="bold" font-size="15.8">2500</text>
<line x1="79.2" y1="104.2" x2="85.0" y2="104.2" stroke="#000" stroke-width="1.9"/>
<text transform="translate(79.60,109.80) scale(0.9,1)" text-anchor="end" font-family="Liberation Sans, Arial, Helvetica, sans-serif" font-weight="bold" font-size="15.8">1500</text>
<line x1="79.2" y1="142.5" x2="85.0" y2="142.5" stroke="#000" stroke-width="1.9"/>
<text transform="translate(79.60,148.10) scale(0.9,1)" text-anchor="end" font-family="Liberation Sans, Arial, Helvetica, sans-serif" font-weight="bold" font-size="15.8">1000</text>
<line x1="79.2" y1="181" x2="85.0" y2="181" stroke="#000" stroke-width="1.9"/>
<text transform="translate(79.60,186.60) scale(0.9,1)" text-anchor="end" font-family="Liberation Sans, Arial, Helvetica, sans-serif" font-weight="bold" font-size="15.8">500</text>
<line x1="79.2" y1="219.7" x2="85.0" y2="219.7" stroke="#000" stroke-width="1.9"/>
<text transform="translate(79.60,225.30) scale(0.9,1)" text-anchor="end" font-family="Liberation Sans, Arial, Helvetica, sans-serif" font-weight="bold" font-size="15.8">0</text>
<line x1="119.8" y1="219.7" x2="119.8" y2="224.7" stroke="#000" stroke-width="1.8"/>
<text transform="translate(120.10,238.90) scale(0.92,1)" text-anchor="middle" font-family="Liberation Sans, Arial, Helvetica, sans-serif" font-weight="bold" font-size="15.7">0</text>
<line x1="190.60000000000002" y1="219.7" x2="190.60000000000002" y2="224.7" stroke="#000" stroke-width="1.8"/>
<text transform="translate(190.90,238.90) scale(0.92,1)" text-anchor="middle" font-family="Liberation Sans, Arial, Helvetica, sans-serif" font-weight="bold" font-size="15.7">8</text>
<line x1="261.5" y1="219.7" x2="261.5" y2="224.7" stroke="#000" stroke-width="1.8"/>
<text transform="translate(261.80,238.90) scale(0.92,1)" text-anchor="middle" font-family="Liberation Sans, Arial, Helvetica, sans-serif" font-weight="bold" font-size="15.7">18</text>
<line x1="332.5" y1="219.7" x2="332.5" y2="224.7" stroke="#000" stroke-width="1.8"/>
<text transform="translate(332.80,238.90) scale(0.92,1)" text-anchor="middle" font-family="Liberation Sans, Arial, Helvetica, sans-serif" font-weight="bold" font-size="15.7">28</text>
<text transform="translate(359.20,244.40) scale(0.88,1)" text-anchor="start" font-family="Liberation Sans, Arial, Helvetica, sans-serif" font-weight="bold" font-size="15.8">(days)</text>
<text x="2.6" y="20.7" font-family="Liberation Sans, Arial, Helvetica, sans-serif" font-weight="bold" font-size="25">A</text>
<text x="1.4" y="348.4" font-family="Liberation Sans, Arial, Helvetica, sans-serif" font-weight="bold" font-size="25">B</text>
<text transform="translate(41.0,189.0) rotate(-90)" font-family="Liberation Sans, Arial, Helvetica, sans-serif" font-weight="bold" font-size="16.8" textLength="157.5" lengthAdjust="spacingAndGlyphs">Platelets/µL (x 10<tspan font-size="10.8" dy="-8.3">3</tspan><tspan dy="8.3">)</tspan></text>
<rect x="380.6" y="12.20" width="15.8" height="9.3" fill="#dcdcdc"/>
<clipPath id="c20"><rect x="381.90000000000003" y="13.50" width="13.200000000000001" height="6.700000000000001"/></clipPath>
<g clip-path="url(#c20)" stroke="#000000" stroke-width="2.0"><line x1="366.50" y1="22.50" x2="377.80" y2="11.20"/><line x1="372.80" y1="22.50" x2="384.10" y2="11.20"/><line x1="379.10" y1="22.50" x2="390.40" y2="11.20"/><line x1="385.40" y1="22.50" x2="396.70" y2="11.20"/><line x1="391.70" y1="22.50" x2="403.00" y2="11.20"/><line x1="398.00" y1="22.50" x2="409.30" y2="11.20"/></g>
<rect x="381.3" y="12.90" width="14.4" height="7.9" fill="none" stroke="#484848" stroke-width="1.4"/>
<text x="404.2" y="20.70" font-family="Liberation Sans, Arial, Helvetica, sans-serif" font-size="12.1" textLength="83.3" lengthAdjust="spacing">WT Female/NaCl</text>
<rect x="380.6" y="28.66" width="15.8" height="9.3" fill="#dcdcdc"/>
<rect x="381.3" y="29.36" width="14.4" height="7.9" fill="none" stroke="#808080" stroke-width="1.4"/>
<text x="404.2" y="37.16" font-family="Liberation Sans, Arial, Helvetica, sans-serif" font-size="12.1" textLength="76" lengthAdjust="spacing">WT males/NaCl</text>
<rect x="380.6" y="45.12" width="15.8" height="9.3" fill="#000000"/>
<clipPath id="c21"><rect x="381.90000000000003" y="46.42" width="13.200000000000001" height="6.700000000000001"/></clipPath>
<g clip-path="url(#c21)" stroke="#ffffff" stroke-width="1.45"><line x1="366.50" y1="55.42" x2="377.80" y2="44.12"/><line x1="372.80" y1="55.42" x2="384.10" y2="44.12"/><line x1="379.10" y1="55.42" x2="390.40" y2="44.12"/><line x1="385.40" y1="55.42" x2="396.70" y2="44.12"/><line x1="391.70" y1="55.42" x2="403.00" y2="44.12"/><line x1="398.00" y1="55.42" x2="409.30" y2="44.12"/></g>
<rect x="381.3" y="45.82" width="14.4" height="7.9" fill="none" stroke="#000000" stroke-width="1.4"/>
<text x="404.2" y="53.62" font-family="Liberation Sans, Arial, Helvetica, sans-serif" font-size="12.1" textLength="83.3" lengthAdjust="spacing">WT Female/Romi</text>
<rect x="380.6" y="61.58" width="15.8" height="9.3" fill="#000000"/>
<rect x="381.3" y="62.28" width="14.4" height="7.9" fill="none" stroke="#000000" stroke-width="1.4"/>
<text x="404.2" y="70.08" font-family="Liberation Sans, Arial, Helvetica, sans-serif" font-size="12.1" textLength="70.3" lengthAdjust="spacing">WT Male/Romi</text>
<rect x="380.6" y="78.04" width="15.8" height="9.3" fill="#c4c4ff"/>
<clipPath id="c22"><rect x="381.90000000000003" y="79.34" width="13.200000000000001" height="6.700000000000001"/></clipPath>
<g clip-path="url(#c22)" stroke="#00004a" stroke-width="2.0"><line x1="366.50" y1="88.34" x2="377.80" y2="77.04"/><line x1="372.80" y1="88.34" x2="384.10" y2="77.04"/><line x1="379.10" y1="88.34" x2="390.40" y2="77.04"/><line x1="385.40" y1="88.34" x2="396.70" y2="77.04"/><line x1="391.70" y1="88.34" x2="403.00" y2="77.04"/><line x1="398.00" y1="88.34" x2="409.30" y2="77.04"/></g>
<rect x="381.3" y="78.74" width="14.4" height="7.9" fill="none" stroke="#4a4ae0" stroke-width="1.4"/>
<text x="404.2" y="86.54" font-family="Liberation Sans, Arial, Helvetica, sans-serif" font-size="12.1" textLength="81.8" lengthAdjust="spacing">KO Female/NaCl</text>
<rect x="380.6" y="94.50" width="15.8" height="9.3" fill="#c4c4ff"/>
<rect x="381.3" y="95.20" width="14.4" height="7.9" fill="none" stroke="#5a5af0" stroke-width="1.4"/>
<text x="404.2" y="103.00" font-family="Liberation Sans, Arial, Helvetica, sans-serif" font-size="12.1" textLength="69.3" lengthAdjust="spacing">KO Male/NaCl</text>
<rect x="380.6" y="110.96" width="15.8" height="9.3" fill="#0000ee"/>
<clipPath id="c23"><rect x="381.90000000000003" y="112.26" width="13.200000000000001" height="6.700000000000001"/></clipPath>
<g clip-path="url(#c23)" stroke="#ffffff" stroke-width="1.45"><line x1="366.50" y1="121.26" x2="377.80" y2="109.96"/><line x1="372.80" y1="121.26" x2="384.10" y2="109.96"/><line x1="379.10" y1="121.26" x2="390.40" y2="109.96"/><line x1="385.40" y1="121.26" x2="396.70" y2="109.96"/><line x1="391.70" y1="121.26" x2="403.00" y2="109.96"/><line x1="398.00" y1="121.26" x2="409.30" y2="109.96"/></g>
<rect x="381.3" y="111.66" width="14.4" height="7.9" fill="none" stroke="#0000ee" stroke-width="1.4"/>
<text x="404.2" y="119.46" font-family="Liberation Sans, Arial, Helvetica, sans-serif" font-size="12.1" textLength="112.8" lengthAdjust="spacing">KO Female/romiplostim</text>
<rect x="380.6" y="127.42" width="15.8" height="9.3" fill="#0000ee"/>
<rect x="381.3" y="128.12" width="14.4" height="7.9" fill="none" stroke="#0000ee" stroke-width="1.4"/>
<text x="404.2" y="135.92" font-family="Liberation Sans, Arial, Helvetica, sans-serif" font-size="12.1" textLength="100.3" lengthAdjust="spacing">KO Male/romiplostim</text>
<rect x="90.80" y="409.10" width="8.70" height="105.10" fill="#dcdcdc" stroke="#5a5a5a" stroke-width="1.6"/>
<line x1="95.15" y1="408.80" x2="95.15" y2="405.20" stroke="#6a6a6a" stroke-width="2.4"/>
<line x1="91.85" y1="405.25" x2="98.45" y2="405.25" stroke="#6a6a6a" stroke-width="2.1"/>
<rect x="104.20" y="405.00" width="9.40" height="109.20" fill="#000" stroke="#000" stroke-width="1.6"/>
<line x1="108.90" y1="404.70" x2="108.90" y2="404.30" stroke="#000" stroke-width="2.4"/>
<line x1="105.60" y1="404.35" x2="112.20" y2="404.35" stroke="#000" stroke-width="2.1"/>
<rect x="118.30" y="376.80" width="8.70" height="137.40" fill="#c4c4ff" stroke="#5050ea" stroke-width="1.6"/>
<line x1="122.65" y1="376.50" x2="122.65" y2="373.10" stroke="#5a5af0" stroke-width="2.4"/>
<line x1="119.35" y1="373.15" x2="125.95" y2="373.15" stroke="#5a5af0" stroke-width="2.1"/>
<rect x="132.05" y="374.30" width="8.70" height="139.90" fill="#0000ee" stroke="#0000ee" stroke-width="1.6"/>
<line x1="136.40" y1="374.00" x2="136.40" y2="373.70" stroke="#0000ee" stroke-width="2.4"/>
<line x1="133.10" y1="373.75" x2="139.70" y2="373.75" stroke="#0000ee" stroke-width="2.1"/>
<rect x="154.10" y="410.80" width="8.70" height="103.40" fill="#dcdcdc" stroke="#5a5a5a" stroke-width="1.6"/>
<line x1="158.45" y1="410.50" x2="158.45" y2="409.10" stroke="#6a6a6a" stroke-width="2.4"/>
<line x1="155.15" y1="409.15" x2="161.75" y2="409.15" stroke="#6a6a6a" stroke-width="2.1"/>
<rect x="167.50" y="386.50" width="9.40" height="127.70" fill="#000" stroke="#000" stroke-width="1.6"/>
<line x1="172.20" y1="386.20" x2="172.20" y2="382.20" stroke="#000" stroke-width="2.4"/>
<line x1="168.90" y1="382.25" x2="175.50" y2="382.25" stroke="#000" stroke-width="2.1"/>
<rect x="181.60" y="374.00" width="8.70" height="140.20" fill="#c4c4ff" stroke="#5050ea" stroke-width="1.6"/>
<line x1="185.95" y1="373.70" x2="185.95" y2="370.90" stroke="#5a5af0" stroke-width="2.4"/>
<line x1="182.65" y1="370.95" x2="189.25" y2="370.95" stroke="#5a5af0" stroke-width="2.1"/>
<rect x="195.35" y="358.20" width="8.70" height="156.00" fill="#0000ee" stroke="#0000ee" stroke-width="1.6"/>
<line x1="199.70" y1="357.90" x2="199.70" y2="356.20" stroke="#0000ee" stroke-width="2.4"/>
<line x1="196.40" y1="356.25" x2="203.00" y2="356.25" stroke="#0000ee" stroke-width="2.1"/>
<rect x="217.80" y="428.20" width="8.70" height="86.00" fill="#dcdcdc" stroke="#5a5a5a" stroke-width="1.6"/>
<line x1="222.15" y1="427.90" x2="222.15" y2="426.40" stroke="#6a6a6a" stroke-width="2.4"/>
<line x1="218.85" y1="426.45" x2="225.45" y2="426.45" stroke="#6a6a6a" stroke-width="2.1"/>
<rect x="231.20" y="415.60" width="9.40" height="98.60" fill="#000" stroke="#000" stroke-width="1.6"/>
<line x1="235.90" y1="415.30" x2="235.90" y2="414.30" stroke="#000" stroke-width="2.4"/>
<line x1="232.60" y1="414.35" x2="239.20" y2="414.35" stroke="#000" stroke-width="2.1"/>
<rect x="245.30" y="394.90" width="8.70" height="119.30" fill="#c4c4ff" stroke="#5050ea" stroke-width="1.6"/>
<line x1="249.65" y1="394.60" x2="249.65" y2="392.50" stroke="#5a5af0" stroke-width="2.4"/>
<line x1="246.35" y1="392.55" x2="252.95" y2="392.55" stroke="#5a5af0" stroke-width="2.1"/>
<rect x="259.05" y="386.90" width="8.70" height="127.30" fill="#0000ee" stroke="#0000ee" stroke-width="1.6"/>
<line x1="263.40" y1="386.60" x2="263.40" y2="385.70" stroke="#0000ee" stroke-width="2.4"/>
<line x1="260.10" y1="385.75" x2="266.70" y2="385.75" stroke="#0000ee" stroke-width="2.1"/>
<rect x="281.10" y="415.80" width="8.70" height="98.40" fill="#dcdcdc" stroke="#5a5a5a" stroke-width="1.6"/>
<line x1="285.45" y1="415.50" x2="285.45" y2="412.50" stroke="#6a6a6a" stroke-width="2.4"/>
<line x1="282.15" y1="412.55" x2="288.75" y2="412.55" stroke="#6a6a6a" stroke-width="2.1"/>
<rect x="294.50" y="406.20" width="9.40" height="108.00" fill="#000" stroke="#000" stroke-width="1.6"/>
<line x1="299.20" y1="405.90" x2="299.20" y2="403.20" stroke="#000" stroke-width="2.4"/>
<line x1="295.90" y1="403.25" x2="302.50" y2="403.25" stroke="#000" stroke-width="2.1"/>
<rect x="308.60" y="383.80" width="8.70" height="130.40" fill="#c4c4ff" stroke="#5050ea" stroke-width="1.6"/>
<line x1="312.95" y1="383.50" x2="312.95" y2="380.90" stroke="#5a5af0" stroke-width="2.4"/>
<line x1="309.65" y1="380.95" x2="316.25" y2="380.95" stroke="#5a5af0" stroke-width="2.1"/>
<rect x="322.35" y="384.50" width="8.70" height="129.70" fill="#0000ee" stroke="#0000ee" stroke-width="1.6"/>
<line x1="326.70" y1="384.20" x2="326.70" y2="381.50" stroke="#0000ee" stroke-width="2.4"/>
<line x1="323.40" y1="381.55" x2="330.00" y2="381.55" stroke="#0000ee" stroke-width="2.1"/>
<line x1="84.2" y1="344.3" x2="84.2" y2="515.6" stroke="#000" stroke-width="2"/>
<line x1="83.2" y1="514.6" x2="338.3" y2="514.6" stroke="#000" stroke-width="2"/>
<line x1="79.4" y1="345.2" x2="84.2" y2="345.2" stroke="#000" stroke-width="1.8"/>
<text transform="translate(78.10,349.80) scale(0.9,1)" text-anchor="end" font-family="Liberation Sans, Arial, Helvetica, sans-serif" font-weight="bold" font-size="13.4">60</text>
<line x1="79.4" y1="401.8" x2="84.2" y2="401.8" stroke="#000" stroke-width="1.8"/>
<text transform="translate(78.10,406.40) scale(0.9,1)" text-anchor="end" font-family="Liberation Sans, Arial, Helvetica, sans-serif" font-weight="bold" font-size="13.4">40</text>
<line x1="79.4" y1="458.2" x2="84.2" y2="458.2" stroke="#000" stroke-width="1.8"/>
<text transform="translate(78.10,462.80) scale(0.9,1)" text-anchor="end" font-family="Liberation Sans, Arial, Helvetica, sans-serif" font-weight="bold" font-size="13.4">20</text>
<line x1="79.4" y1="514.6" x2="84.2" y2="514.6" stroke="#000" stroke-width="1.8"/>
<text transform="translate(78.10,519.20) scale(0.9,1)" text-anchor="end" font-family="Liberation Sans, Arial, Helvetica, sans-serif" font-weight="bold" font-size="13.4">0</text>
<line x1="115.8" y1="514.6" x2="115.8" y2="519.6" stroke="#000" stroke-width="1.8"/>
<text transform="translate(116.10,531.70) scale(0.92,1)" text-anchor="middle" font-family="Liberation Sans, Arial, Helvetica, sans-serif" font-weight="bold" font-size="13.4">0</text>
<line x1="179.10000000000002" y1="514.6" x2="179.10000000000002" y2="519.6" stroke="#000" stroke-width="1.8"/>
<text transform="translate(179.40,531.70) scale(0.92,1)" text-anchor="middle" font-family="Liberation Sans, Arial, Helvetica, sans-serif" font-weight="bold" font-size="13.4">8</text>
<line x1="242.8" y1="514.6" x2="242.8" y2="519.6" stroke="#000" stroke-width="1.8"/>
<text transform="translate(243.10,531.70) scale(0.92,1)" text-anchor="middle" font-family="Liberation Sans, Arial, Helvetica, sans-serif" font-weight="bold" font-size="13.4">18</text>
<line x1="306.1" y1="514.6" x2="306.1" y2="519.6" stroke="#000" stroke-width="1.8"/>
<text transform="translate(306.40,531.70) scale(0.92,1)" text-anchor="middle" font-family="Liberation Sans, Arial, Helvetica, sans-serif" font-weight="bold" font-size="13.4">29</text>
<text transform="translate(336.00,531.80) scale(0.97,1)" text-anchor="start" font-family="Liberation Sans, Arial, Helvetica, sans-serif" font-weight="bold" font-size="14.6">(days)</text>
<text transform="translate(55.8,469.7) rotate(-90)" font-family="Liberation Sans, Arial, Helvetica, sans-serif" font-weight="bold" font-size="13.3" word-spacing="-2.2" textLength="81.6" lengthAdjust="spacingAndGlyphs">FSC (Y-Med)</text>
<rect x="355.2" y="351.90" width="18.7" height="9.5" fill="#dcdcdc" stroke="#5a5a5a" stroke-width="1.4"/>
<text x="384.4" y="361.50" font-family="Liberation Sans, Arial, Helvetica, sans-serif" font-size="14.3" textLength="55.2" lengthAdjust="spacing">WT NaCl</text>
<rect x="355.2" y="371.30" width="18.7" height="9.5" fill="#000" stroke="#000" stroke-width="1.4"/>
<text x="384.4" y="380.90" font-family="Liberation Sans, Arial, Helvetica, sans-serif" font-size="14.3" textLength="95" lengthAdjust="spacing">WT romiplostim</text>
<rect x="355.2" y="390.70" width="18.7" height="9.5" fill="#c4c4ff" stroke="#5050ea" stroke-width="1.4"/>
<text x="384.4" y="400.30" font-family="Liberation Sans, Arial, Helvetica, sans-serif" font-size="14.3" textLength="82" lengthAdjust="spacing">Myh9-/- NaCl</text>
<rect x="355.2" y="410.10" width="18.7" height="9.5" fill="#0000ee" stroke="#0000ee" stroke-width="1.4"/>
<text x="384.4" y="419.70" font-family="Liberation Sans, Arial, Helvetica, sans-serif" font-size="14.3" textLength="122" lengthAdjust="spacing">Myh9-/- romiplostim</text>
</svg>
</body></html>
